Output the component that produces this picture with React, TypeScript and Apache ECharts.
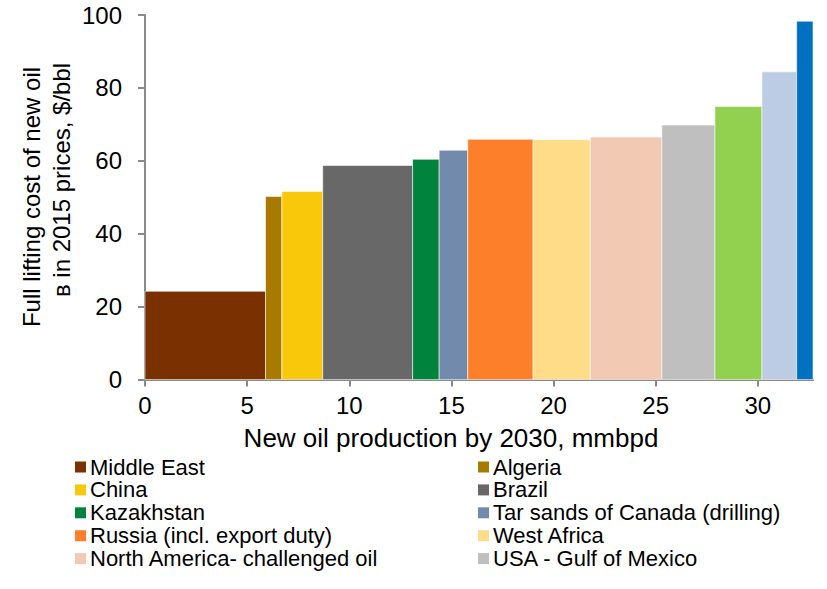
import React, { useEffect, useRef } from "react";
import * as echarts from "echarts";

const categories = [
  "Middle East",
  "Algeria",
  "China",
  "Brazil",
  "Kazakhstan",
  "Tar sands of Canada (drilling)",
  "Russia (incl. export duty)",
  "West Africa",
  "North America- challenged oil",
  "USA - Gulf of Mexico",
  "Other 11",
  "Other 12",
  "Other 13",
];
// new production volume of each block, mmbpd (bar widths)
const volumes = [5.9, 0.8, 2.0, 4.4, 1.3, 1.4, 3.2, 2.8, 3.5, 2.6, 2.3, 1.7, 0.8];
// full lifting cost, $/bbl (bar heights)
const costs = [24.2, 50.2, 51.6, 58.7, 60.4, 62.9, 65.9, 65.8, 66.5, 69.8, 74.9, 84.4, 98.3];
const xTicks = [0, 5, 10, 15, 20, 25, 30];
const legendCount = 10;

const colors = [
  "#7B3000", "#A87B00", "#FAC80A", "#686868", "#00843D", "#728AAB", "#FE7F2A",
  "#FEDC88", "#F2C9B3", "#BFBFBF", "#92D050", "#BBCCE4", "#0070C0",
];

const FONT = "Liberation Sans, Arial, sans-serif";

export default function App() {
  const ref = useRef<HTMLDivElement>(null);
  useEffect(() => {
    if (!ref.current) return;
    const chart = echarts.init(ref.current, undefined, { renderer: "svg" });
    let acc = 0;
    const series = categories.map((name, i) => {
      const x0 = acc;
      acc += volumes[i];
      const x1 = acc;
      return {
        type: "custom",
        name,
        itemStyle: { color: colors[i] },
        encode: { x: [0, 1], y: 2 },
        data: [[x0, x1, costs[i]]],
        renderItem: (params: any, api: any) => {
          const p0 = api.coord([api.value(0), api.value(2)]);
          const p1 = api.coord([api.value(1), 0]);
          return {
            type: "rect",
            shape: { x: p0[0], y: p0[1], width: p1[0] - p0[0], height: p1[1] - p0[1] },
            style: { fill: colors[i], stroke: "rgba(255,255,255,0.7)", lineWidth: 0.8 },
          };
        },
      };
    });
    const totalMax = Math.round(acc * 10) / 10;
    const legendStyle = {
      orient: "vertical",
      icon: "rect",
      itemWidth: 11,
      itemHeight: 11,
      itemGap: 0.9,
      padding: 0,
      textStyle: { fontSize: 22, fontFamily: FONT, color: "#000", lineHeight: 22, padding: [0, 0, 0, -1] },
      selectedMode: false,
      top: 456,
    };
    const leftNames = categories.slice(0, legendCount).filter((_, i) => i % 2 === 0);
    const rightNames = categories.slice(0, legendCount).filter((_, i) => i % 2 === 1);
    chart.setOption({
      animation: false,
      grid: { left: 145, right: 14, top: 15, bottom: 209.5, containLabel: false },
      xAxis: {
        type: "value",
        min: 0,
        max: totalMax,
        interval: 5,
        splitLine: { show: false },
        axisLine: { show: true, lineStyle: { color: "#8a8a8a", width: 2 } },
        axisTick: { show: true, length: 7, lineStyle: { color: "#8a8a8a", width: 2 }, customValues: xTicks },
        axisLabel: { fontSize: 24, fontFamily: FONT, color: "#000", margin: 14, customValues: xTicks },
      },
      yAxis: {
        type: "value",
        min: 0,
        max: 100,
        interval: 20,
        splitLine: { show: false },
        axisLine: { show: true, lineStyle: { color: "#8a8a8a", width: 2 } },
        axisTick: { show: true, length: 7, lineStyle: { color: "#8a8a8a", width: 2 } },
        axisLabel: { fontSize: 24, fontFamily: FONT, color: "#000", margin: 23 },
      },
      legend: [
        { ...legendStyle, left: 75, data: leftNames },
        { ...legendStyle, left: 478, data: rightNames },
      ],
      graphic: [
        {
          type: "text",
          x: 451,
          y: 438,
          style: {
            text: "New oil production by 2030, mmbpd",
            fontSize: 26,
            fontFamily: FONT,
            fill: "#000",
            textAlign: "center",
            textVerticalAlign: "middle",
          },
        },
        {
          type: "text",
          x: 31,
          y: 197,
          rotation: Math.PI / 2,
          style: {
            text: "Full lifting cost of new oil",
            fontSize: 24,
            fontFamily: FONT,
            fill: "#000",
            textAlign: "center",
            textVerticalAlign: "middle",
          },
        },
        {
          type: "text",
          x: 61,
          y: 180,
          rotation: Math.PI / 2,
          style: {
            text: "в in 2015 prices, $/bbl",
            fontSize: 24,
            fontFamily: FONT,
            fill: "#000",
            textAlign: "center",
            textVerticalAlign: "middle",
          },
        },
      ],
      series,
    });
    return () => chart.dispose();
  }, []);
  return <div ref={ref} style={{ width: 827, height: 589, position: "absolute", left: 0, top: 0 }} />;
}
